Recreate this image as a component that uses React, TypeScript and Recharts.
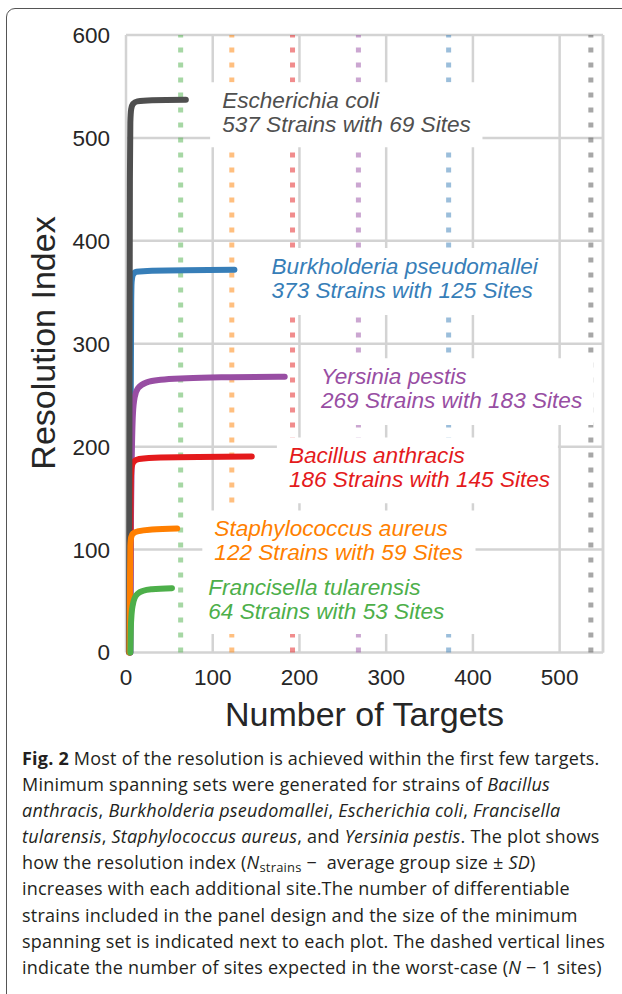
import React from 'react';
import { LineChart, Line, XAxis, YAxis, CartesianGrid, ReferenceLine, ReferenceArea, Label } from 'recharts';

const xTicks = [0, 100, 200, 300, 400, 500];
const yTicks = [0, 100, 200, 300, 400, 500, 600];

// [number of targets, resolution index]
const ecoli = [[3.5, 0], [4, 250], [4.5, 460], [5, 515], [6, 528], [8, 533], [13, 535.5], [30, 536.5], [69, 537]];
const burkholderia = [[5, 0], [5.5, 250], [6, 340], [6.5, 360], [8, 367], [12, 370], [30, 371], [125, 372]];
const yersinia = [[5, 0], [5.5, 100], [6.5, 180], [8, 232], [10, 248], [14, 257], [24, 262.5], [40, 265], [70, 266.5], [120, 267.5], [183, 268]];
const bacillus = [[4.5, 0], [5, 110], [5.5, 165], [6.5, 180], [9, 185.5], [15, 188], [40, 189.5], [145, 190.5]];
const staphylococcus = [[4, 0], [4.5, 60], [5, 103], [6, 112], [8, 115.5], [15, 118], [30, 119.5], [59, 120.5]];
const francisella = [[5, 0], [5.5, 22], [6.5, 38], [8, 47], [10, 53], [14, 57.5], [20, 60], [30, 61.5], [53, 62.5]];

const speciesNames = ['Escherichia coli', 'Burkholderia pseudomallei', 'Yersinia pestis', 'Bacillus anthracis', 'Staphylococcus aureus', 'Francisella tularensis'];
const strainCounts = [537, 373, 269, 186, 122, 64];
const siteCounts = [69, 125, 183, 145, 59, 53];
const worstCaseSites = [536, 372, 268, 192, 122, 63];
const seriesPoints = [ecoli, burkholderia, yersinia, bacillus, staphylococcus, francisella];

// styling / layout
const colors = ['#4f4f4f', '#377eb8', '#984ea3', '#e41a1c', '#ff7f00', '#4daf4a'];
const drawOrder = [1, 2, 3, 0, 4, 5];
// label box corners in chart units: x1, x2, y1, y2
const labelBoxes = [
  [97, 411, 491, 554],
  [154, 490, 328, 393],
  [211, 539, 221, 286],
  [174, 498, 145, 209],
  [88, 403, 75, 138],
  [81, 403, 18, 81],
];

const toRows = (pts: number[][]) => pts.map(([x, y]) => ({ x, y }));

const gridColor = '#d3d3d3';
const textColor = '#262626';
const axisFont = '"Liberation Sans", Arial, sans-serif';

const boxLabel = (i: number) => (props: any) => {
  const vb = props.viewBox;
  return (
    <text fill={colors[i]} fontFamily={axisFont} fontStyle="italic" fontSize={22.6}>
      <tspan x={vb.x + 12} y={vb.y + 26}>{speciesNames[i]}</tspan>
      <tspan x={vb.x + 12} y={vb.y + 50}>{`${strainCounts[i]} Strains with ${siteCounts[i]} Sites`}</tspan>
    </text>
  );
};

const captionLines = [
  <><b>Fig. 2</b> Most of the resolution is achieved within the first few targets.</>,
  <>Minimum spanning sets were generated for strains of <i>Bacillus</i></>,
  <><i>anthracis</i>, <i>Burkholderia pseudomallei</i>, <i>Escherichia coli</i>, <i>Francisella</i></>,
  <><i>tularensis</i>, <i>Staphylococcus aureus</i>, and <i>Yersinia pestis</i>. The plot shows</>,
  <>how the resolution index (<i>N</i><sub style={{ fontSize: '0.72em', verticalAlign: '-0.25em', lineHeight: 0 }}>strains</sub> −&nbsp; average group size ± <i>SD</i>)</>,
  <>increases with each additional site.The number of differentiable</>,
  <>strains included in the panel design and the size of the minimum</>,
  <>spanning set is indicated next to each plot. The dashed vertical lines</>,
  <>indicate the number of sites expected in the worst-case (<i>N</i> − 1 sites)</>,
];

const App: React.FC = () => {
  return (
    <div style={{ position: 'absolute', left: 0, top: 0, width: 622, height: 994, overflow: 'hidden', background: '#fff' }}>
      <div style={{ position: 'absolute', left: 6, top: 8, width: 700, height: 1100, border: '1.3px solid #555', borderRadius: 9 }} />
      <div style={{ position: 'absolute', left: 0, top: 0 }}>
        <LineChart width={622} height={740} margin={{ top: 35, right: 19, bottom: 0, left: 0 }}>
          <CartesianGrid stroke={gridColor} strokeWidth={2.5} />
          <XAxis
            type="number"
            dataKey="x"
            domain={[0, 550]}
            ticks={xTicks}
            allowDataOverflow
            height={87.5}
            axisLine={false}
            tickLine={false}
            tickSize={0}
            tickMargin={17}
            tick={{ fill: textColor, fontSize: 22.5, fontFamily: axisFont }}
          >
            <Label
              content={() => (
                <text x={364.5} y={726} textAnchor="middle" fill={textColor} fontSize={34} fontFamily={axisFont}>
                  Number of Targets
                </text>
              )}
            />
          </XAxis>
          <YAxis
            type="number"
            dataKey="y"
            domain={[0, 600]}
            ticks={yTicks}
            width={126}
            axisLine={false}
            tickLine={false}
            tickSize={0}
            tickMargin={16}
            tick={{ fill: textColor, fontSize: 22.5, fontFamily: axisFont }}
          >
            <Label
              content={() => (
                <text transform="translate(55,343) rotate(-90)" textAnchor="middle" fill={textColor} fontSize={34} fontFamily={axisFont}>
                  Resolution Index
                </text>
              )}
            />
          </YAxis>
          <ReferenceLine x={550} stroke={gridColor} strokeWidth={2.5} />
          {worstCaseSites.map((v, i) => (
            <ReferenceLine key={`w${i}`} x={v} stroke={colors[i]} strokeOpacity={0.5} strokeWidth={5} strokeDasharray="5 10" />
          ))}
          {labelBoxes.map((b, i) => (
            <ReferenceArea
              key={`b${i}`}
              x1={b[0]}
              x2={b[1]}
              y1={b[2]}
              y2={b[3]}
              fill="#ffffff"
              fillOpacity={1}
              stroke="none"
              zIndex={450}
              label={boxLabel(i)}
            />
          ))}
          {drawOrder.map((i) => (
            <Line
              key={`s${i}`}
              data={toRows(seriesPoints[i])}
              dataKey="y"
              type="monotone"
              stroke={colors[i]}
              strokeWidth={6}
              strokeLinecap="round"
              strokeLinejoin="round"
              dot={false}
              activeDot={false}
              isAnimationActive={false}
            />
          ))}
        </LineChart>
      </div>
      <div
        style={{
          position: 'absolute',
          left: 22,
          top: 745,
          fontFamily: '"Open Sans", sans-serif',
          fontSize: 18,
          letterSpacing: '0.22px',
          lineHeight: '26.1px',
          color: '#231f20',
          whiteSpace: 'nowrap',
        }}
      >
        {captionLines.map((l, i) => (
          <div key={i}>{l}</div>
        ))}
      </div>
    </div>
  );
};

export default App;
